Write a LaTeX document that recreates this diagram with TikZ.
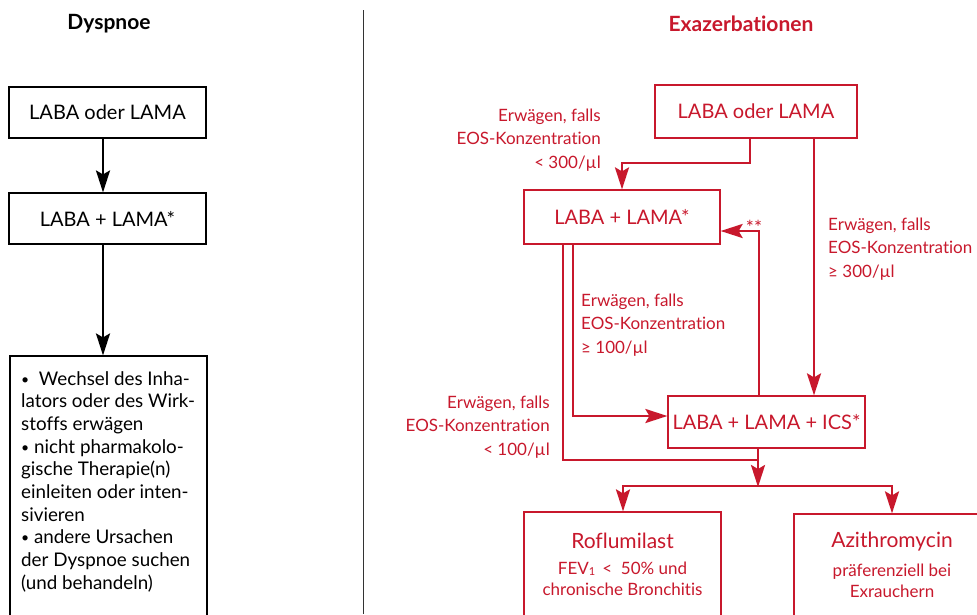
\documentclass[tikz,border=0pt]{standalone}
\usepackage{fontspec}
\setmainfont{Lato}[Ligatures={NoCommon}]
\usetikzlibrary{arrows.meta}
\definecolor{dred}{RGB}{200,24,44}
\newcommand{\smbul}{{\fontsize{14}{14}\selectfont\raisebox{1pt}{•}}}
\begin{document}
\begin{tikzpicture}[x=1pt,y=-1pt,
  lbox/.style={draw=black, line width=1.1pt, inner sep=0pt, font=\fontsize{20}{24}\selectfont},
  rbox/.style={draw=dred, line width=1.2pt, inner sep=0pt, text=dred, font=\fontsize{20}{24}\selectfont},
  tip/.style={-{Stealth[length=22pt,width=14pt,inset=4pt]}},
  barr/.style={draw=black, line width=2.3pt, tip},
  rline/.style={draw=dred, line width=2.6pt},
  rarr/.style={rline, tip},
  rlab/.style={text=dred, inner sep=0pt, font=\fontsize{17}{23.5}\selectfont},
  rtitle/.style={text=dred, inner sep=0pt, font=\fontsize{21}{25}\selectfont},
  rsmall/.style={text=dred, inner sep=0pt, align=center, font=\fontsize{17}{20.5}\selectfont},
  head/.style={inner sep=0pt, font=\fontsize{21}{24}\selectfont\bfseries}
]
\useasboundingbox (0,0) rectangle (977,614);
\fill[white] (0,0) rectangle (977,614);

% divider
\draw[line width=1pt, black!80] (363,10) -- (363,614);

% left column
\node[head] (hl) at (109,24) {Dyspnoe};
\node[lbox, minimum width=197pt, minimum height=51pt] (l1) at (107.5,112.5) {LABA oder LAMA};
\node[lbox, minimum width=197pt, minimum height=51pt] (l2) at (107.5,218.5) {LABA + LAMA*};
\node[lbox, minimum width=197pt, minimum height=290pt] (l3) at (108.5,501) {};
\node[anchor=north west, align=left, inner sep=0pt, font=\fontsize{18.8}{22.7}\selectfont] (l3t) at (21,371)
  {\smbul\ \ Wechsel des Inha-\\lators oder des Wirk-\\stoffs erwägen\\\smbul\ nicht pharmakolo-\\gische Therapie(n)\\einleiten oder inten-\\sivieren\\\smbul\ andere Ursachen\\der Dyspnoe suchen\\(und behandeln)};
\draw[barr] ([xshift=-4.5pt]l1.south) -- ([xshift=-4.5pt]l2.north);
\draw[barr] ([xshift=-4.5pt]l2.south) -- ([xshift=-5.5pt]l3.north);

% right column
\node[head, text=dred] (hr) at (741,24) {Exazerbationen};
\node[rbox, minimum width=202pt, minimum height=53pt] (r1) at (756,111.5) {LABA oder LAMA};
\node[rbox, minimum width=196pt, minimum height=54pt] (r2) at (622,217) {LABA + LAMA*};
\node[rbox, minimum width=197pt, minimum height=52pt] (r3) at (766.5,422) {LABA + LAMA + ICS*};
\node[rbox, minimum width=197pt, minimum height=150pt] (r4) at (622.5,587) {};
\node[rbox, minimum width=196pt, minimum height=150pt] (r5) at (892,589) {};
\node[rtitle] (r4t) at (622.5,541) {Roflumilast};
\node[rsmall] (r4s) at (622.5,579) {FEV{\fontsize{11}{11}\selectfont\raisebox{-1pt}{1}} \,<\ \ 50\% und\\chronische Bronchitis};
\node[rtitle] (r5t) at (892,542) {Azithromycin};
\node[rsmall] (r5s) at (892,581) {präferenziell bei\\Exrauchern};

% labels
\node[rlab, anchor=east, align=right] (lab1) at (601,140) {Erwägen, falls\\EOS-Konzentration\\< 300/µl};
\node[rlab, anchor=west, align=left] (lab2) at (828,249) {Erwägen, falls\\EOS-Konzentration\\≥ 300/µl};
\node[rlab, anchor=west, align=left] (lab3) at (581,325) {Erwägen, falls\\EOS-Konzentration\\≥ 100/µl};
\node[rlab, anchor=east, align=right] (lab4) at (550,427) {Erwägen, falls\\EOS-Konzentration\\< 100/µl};
\node[text=dred, inner sep=0pt, font=\fontsize{19}{19}\selectfont] (ast) at (754,227) {**};

% connectors
\coordinate (c1) at (750,163);
\coordinate (c2) at (622,163);
\draw[rarr] (r1.south -| c1) -- (c1) -- (c2) -- (r2.north -| c2);
\coordinate (x814) at (814,0);
\draw[rarr] (r1.south -| x814) -- (r3.north -| x814);
\coordinate (c3) at (759,231);
\draw[rarr] (r3.north -| c3) -- (c3) -- (r2.east |- c3);
\coordinate (c4) at (573,416);
\draw[rarr] (r2.south -| c4) -- (c4) -- (r3.west |- c4);
\coordinate (c5) at (563,460);
\coordinate (c6) at (758,460);
\draw[rline] (r2.south -| c5) -- (c5) -- (c6);
\coordinate (j) at (758,487);
\draw[rarr] (r3.south -| j) -- (j);
\coordinate (jl) at (623,486);
\coordinate (jr) at (892,486);
\draw[rline, line cap=rect] (jl) -- (jr);
\draw[rarr] (jl) -- (r4.north -| jl);
\draw[rarr] (jr) -- (r5.north -| jr);
\end{tikzpicture}
\end{document}
